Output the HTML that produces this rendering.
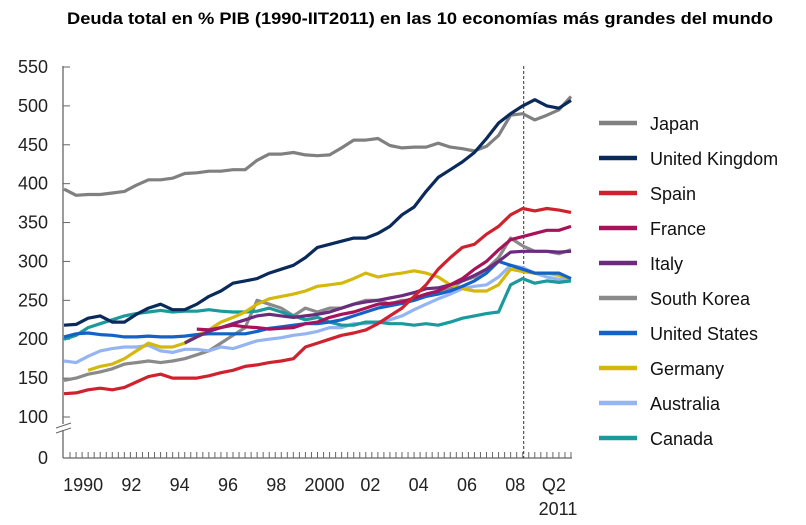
<!DOCTYPE html>
<html><head><meta charset="utf-8"><style>
html,body{margin:0;padding:0;background:#fff;}
svg{display:block;font-family:"Liberation Sans",sans-serif;}
</style></head><body>
<svg id="chart" width="806" height="525" viewBox="0 0 806 525" xmlns="http://www.w3.org/2000/svg">
<text x="67" y="24" font-size="16.5" font-weight="bold" fill="#000" textLength="706" lengthAdjust="spacingAndGlyphs">Deuda total en % PIB (1990-IIT2011)  en las 10 economías más grandes del mundo</text>
<g id="axes"></g><g id="series"></g><g id="legend"></g>
</svg>
<script>
const yTicks=[550,500,450,400,350,300,250,200,150,100];
const xLabels=["1990","92","94","96","98","2000","02","04","06","08","Q2"];
const xLabelPos=[1.5,5.5,9.5,13.5,17.5,21.5,25.3,29.3,33.3,37.3,40.5];
const names=["Japan","United Kingdom","Spain","France","Italy","South Korea","United States","Germany","Australia","Canada"];
const colors=["#808080","#0b2a5c","#d0222e","#a8125a","#6a2c7c","#8a8a8a","#1262c8","#d4b80c","#94b4f4","#1a9a9c"];
const japan=[393,385,386,386,388,390,398,405,405,407,413,414,416,416,418,418,430,438,438,440,437,436,437,446,456,456,458,449,446,447,447,452,447,445,442,448,462,488,490,482,488,495,512];
const uk=[218,219,227,230,222,222,232,240,245,238,238,245,255,262,272,275,278,285,290,295,305,318,322,326,330,330,336,345,360,370,390,408,418,428,440,458,478,490,500,508,500,497,507];
const spain=[130,131,135,137,135,138,145,152,155,150,150,150,153,157,160,165,167,170,172,175,190,195,200,205,208,212,220,230,240,255,270,290,305,318,322,335,345,360,368,365,368,366,363];
const france=[null,null,null,null,null,null,null,null,null,null,null,213,212,215,218,216,215,213,214,215,220,222,228,232,235,240,245,246,248,253,258,262,270,278,290,300,315,328,332,336,340,340,345];
const italy=[null,null,null,null,null,null,null,null,null,null,195,203,210,215,220,225,230,232,230,228,230,232,235,240,245,248,250,253,256,260,265,266,270,275,282,290,300,312,313,313,313,312,313];
const korea=[147,150,155,158,162,168,170,172,170,172,175,180,185,195,205,215,250,245,240,230,240,235,240,240,245,250,250,245,250,250,255,260,265,275,280,290,305,330,320,313,313,310,315];
const usa=[203,207,208,206,205,203,203,204,203,203,204,206,207,207,207,207,210,214,216,218,220,220,222,225,230,235,240,243,246,250,255,258,262,268,275,285,300,295,290,285,285,285,278];
const germany=[null,null,160,165,168,175,185,195,190,190,195,205,212,222,228,235,245,252,255,258,262,268,270,272,278,285,280,283,285,288,285,280,270,265,262,262,270,290,287,285,285,282,278];
const australia=[172,170,178,185,188,190,190,192,185,183,187,187,185,190,188,193,198,200,202,205,207,210,215,215,220,220,222,225,230,238,245,252,258,265,268,270,280,295,292,285,280,277,278];
const canada=[200,205,215,220,225,230,233,235,237,235,236,236,238,236,235,235,236,240,235,230,225,228,222,218,218,222,222,220,220,218,220,218,222,227,230,233,235,270,278,272,275,273,275];
const allSeries=[japan,uk,spain,france,italy,korea,usa,germany,australia,canada];
const nQuarters=84;
const dashedQuarter=76;

const NS="http://www.w3.org/2000/svg";
const X0=64,X1=571;
function xq(q){return X0+(X1-X0)*q/nQuarters;}
function xh(k){return xq(k*2);}
function yv(v){return 417-(v-100)*0.7778;}
function mk(tag,attrs,parent){const e=document.createElementNS(NS,tag);for(const k in attrs)e.setAttribute(k,attrs[k]);parent.appendChild(e);return e;}
const axes=document.getElementById('axes'),ser=document.getElementById('series'),leg=document.getElementById('legend');

const ya=mk('line',{x1:63,y1:66,x2:63,y2:458,stroke:'#666','stroke-width':1.3},axes);


const xa=mk('line',{x1:63,y1:458,x2:X1+1,y2:458,stroke:'#666','stroke-width':1.3},axes);


yTicks.forEach(v=>{
  mk('line',{x1:63,y1:yv(v),x2:70,y2:yv(v),stroke:'#666','stroke-width':1},axes);
  const t=mk('text',{x:48,y:yv(v)+6,'text-anchor':'end','font-size':18,fill:'#222'},axes);
  t.textContent=v;
  
  
});
const z=mk('text',{x:48,y:464,'text-anchor':'end','font-size':18,fill:'#222'},axes);z.textContent='0';


mk('rect',{x:56,y:424,width:14,height:6,fill:'#fff'},axes);
mk('line',{x1:56,y1:428,x2:71,y2:423,stroke:'#666','stroke-width':1},axes);
mk('line',{x1:56,y1:433,x2:71,y2:428,stroke:'#666','stroke-width':1},axes);
for(let q=1;q<=nQuarters;q++){mk('line',{x1:xq(q),y1:458,x2:xq(q),y2:452,stroke:'#666','stroke-width':1},axes);}
xLabels.forEach((l,i)=>{
  const t=mk('text',{x:xq(xLabelPos[i]*2)+1,y:491,'text-anchor':'middle','font-size':18,fill:'#222'},axes);
  t.textContent=l;
  
  
});
const t11=mk('text',{x:558,y:515,'text-anchor':'middle','font-size':18,fill:'#222'},axes);t11.textContent='2011';


const dl=mk('line',{x1:xq(dashedQuarter)+1,y1:66,x2:xq(dashedQuarter)+1,y2:458,stroke:'#333','stroke-width':1,'stroke-dasharray':'3,2'},axes);



const order=[5,8,9,7,6,4,3,2,0,1];
order.forEach(i=>{
  const d=allSeries[i];let p='';let started=false;
  d.forEach((v,k)=>{if(v==null){started=false;return;}p+=(started?'L':'M')+xh(k).toFixed(1)+','+yv(v).toFixed(1);started=true;});
  const path=mk('path',{d:p,fill:'none',stroke:colors[i],'stroke-width':3.2,'stroke-linejoin':'round'},ser);
  
  
});
names.forEach((n,i)=>{
  const y=123+i*35;
  const g=mk('g',{},leg);
  
  
  mk('line',{x1:599,y1:y,x2:637,y2:y,stroke:colors[i],'stroke-width':4.5},g);
  const t=mk('text',{x:650,y:y+7,'font-size':18,fill:'#111'},g);t.textContent=n;
});
</script>
</body></html>
